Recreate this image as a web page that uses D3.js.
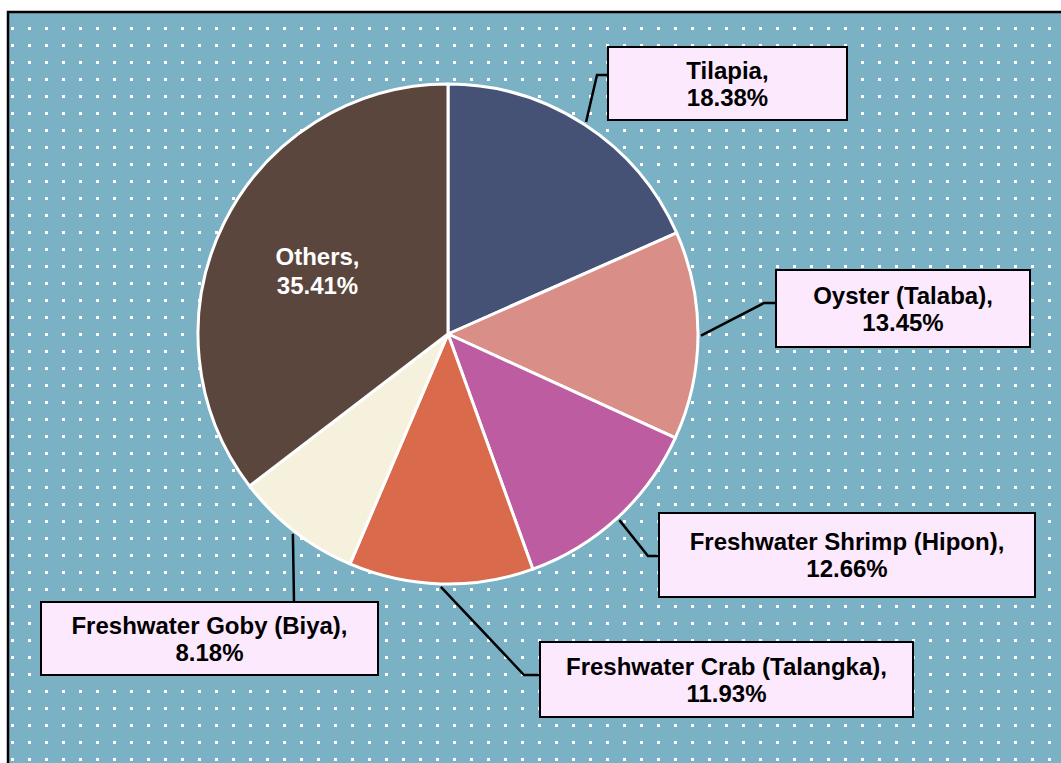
<!DOCTYPE html>
<html>
<head>
<meta charset="utf-8">
<script src="https://cdn.jsdelivr.net/npm/d3@7"></script>
<style>
  html, body { margin: 0; padding: 0; background: #fff; }
  svg { display: block; }
  text { font-family: "Liberation Sans", Arial, sans-serif; font-weight: bold; }
</style>
</head>
<body>
<svg id="chart" width="1061" height="763"></svg>
<script>
// data
let species = ['Tilapia', 'Oyster (Talaba)', 'Freshwater Shrimp (Hipon)', 'Freshwater Crab (Talangka)', 'Freshwater Goby (Biya)', 'Others']
let shares = [18.38, 13.45, 12.66, 11.93, 8.18, 35.41]
let colors = ['#465275', '#d98f88', '#bd5ca0', '#d96a4b', '#f6f1dc', '#5b463d']

// label boxes: [x, y, w, h], elbow point, attach point (Others is inside the pie)
let boxes = [
    { box: [608, 47, 239, 73], elbow: [597, 75], attach: [608, 75] },
    { box: [776, 270, 254, 77], elbow: [764, 303], attach: [776, 303] },
    { box: [659, 513, 376, 84], elbow: [648, 556], attach: [659, 556] },
    { box: [540, 642, 373, 75], elbow: [524, 675], attach: [540, 675] },
    { box: [41, 602, 337, 73], elbow: [294, 602], attach: [294, 602] },
    null
]

let dt = species.map((s, i) => { return { name: s, value: shares[i], color: colors[i], layout: boxes[i] } })

let svg = d3.select("#chart")
let cx = 448, cy = 334, r = 250

// dotted background
let defs = svg.append("defs")
let pat = defs.append("pattern")
    .attr("id", "dots")
    .attr("patternUnits", "userSpaceOnUse")
    .attr("x", 11).attr("y", 27)
    .attr("width", 17).attr("height", 17)
pat.append("rect").attr("width", 17).attr("height", 17).attr("fill", "#7ab1c5")
pat.append("rect").attr("width", 3).attr("height", 3).attr("fill", "#ffffff")

svg.append("rect")
    .attr("x", 8).attr("y", 12)
    .attr("width", 1100).attr("height", 800)
    .attr("fill", "url(#dots)")
    .attr("stroke", "#000")
    .attr("stroke-width", 2.5)

let pie = d3.pie().sort(null).value((d) => { return d.value })
let arcs = pie(dt)

let arc = d3.arc().innerRadius(0).outerRadius(r)
let labelArc = d3.arc().innerRadius(r * 0.6).outerRadius(r * 0.6)

let g = svg.append("g")
    .attr("transform", "translate(" + cx + "," + cy + ")")

g.selectAll("path.slice")
    .data(arcs)
    .enter()
    .append("path")
    .attr("class", "slice")
    .attr("d", arc)
    .attr("fill", (d) => { return d.data.color })
    .attr("stroke", "#ffffff")
    .attr("stroke-width", 3)
    .attr("stroke-linejoin", "round")

// leader lines
let outer = (d) => {
    let a = (d.startAngle + d.endAngle) / 2
    return [cx + (r + 3) * Math.sin(a), cy - (r + 3) * Math.cos(a)]
}

let withBox = arcs.filter((d) => { return d.data.layout })

svg.selectAll("path.leader")
    .data(withBox)
    .enter()
    .append("path")
    .attr("class", "leader")
    .attr("fill", "none")
    .attr("stroke", "#000")
    .attr("stroke-width", 2.5)
    .attr("d", (d) => { return d3.line()([outer(d), d.data.layout.elbow, d.data.layout.attach]) })

let lab = svg.selectAll("g.lab")
    .data(withBox)
    .enter()
    .append("g")
    .attr("class", "lab")

lab.append("rect")
    .attr("x", (d) => { return d.data.layout.box[0] })
    .attr("y", (d) => { return d.data.layout.box[1] })
    .attr("width", (d) => { return d.data.layout.box[2] })
    .attr("height", (d) => { return d.data.layout.box[3] })
    .attr("fill", "#fde9fd")
    .attr("stroke", "#000")
    .attr("stroke-width", 2)

let t = lab.append("text")
    .attr("text-anchor", "middle")
    .attr("font-size", "24px")
    .attr("fill", "#000")
t.append("tspan")
    .attr("x", (d) => { return d.data.layout.box[0] + d.data.layout.box[2] / 2 })
    .attr("y", (d) => { return d.data.layout.box[1] + d.data.layout.box[3] / 2 - 5 })
    .text((d) => { return d.data.name + "," })
t.append("tspan")
    .attr("x", (d) => { return d.data.layout.box[0] + d.data.layout.box[2] / 2 })
    .attr("y", (d) => { return d.data.layout.box[1] + d.data.layout.box[3] / 2 + 22 })
    .text((d) => { return d.data.value.toFixed(2) + "%" })

// inside label for Others
let inside = arcs.filter((d) => { return !d.data.layout })
let ti = g.selectAll("text.inside")
    .data(inside)
    .enter()
    .append("text")
    .attr("class", "inside")
    .attr("text-anchor", "middle")
    .attr("font-size", "24px")
    .attr("fill", "#ffffff")
ti.append("tspan")
    .attr("x", (d) => { return labelArc.centroid(d)[0] + 4 })
    .attr("y", (d) => { return labelArc.centroid(d)[1] - 3 })
    .text((d) => { return d.data.name + "," })
ti.append("tspan")
    .attr("x", (d) => { return labelArc.centroid(d)[0] + 4 })
    .attr("y", (d) => { return labelArc.centroid(d)[1] + 26 })
    .text((d) => { return d.data.value.toFixed(2) + "%" })
</script>
</body>
</html>
